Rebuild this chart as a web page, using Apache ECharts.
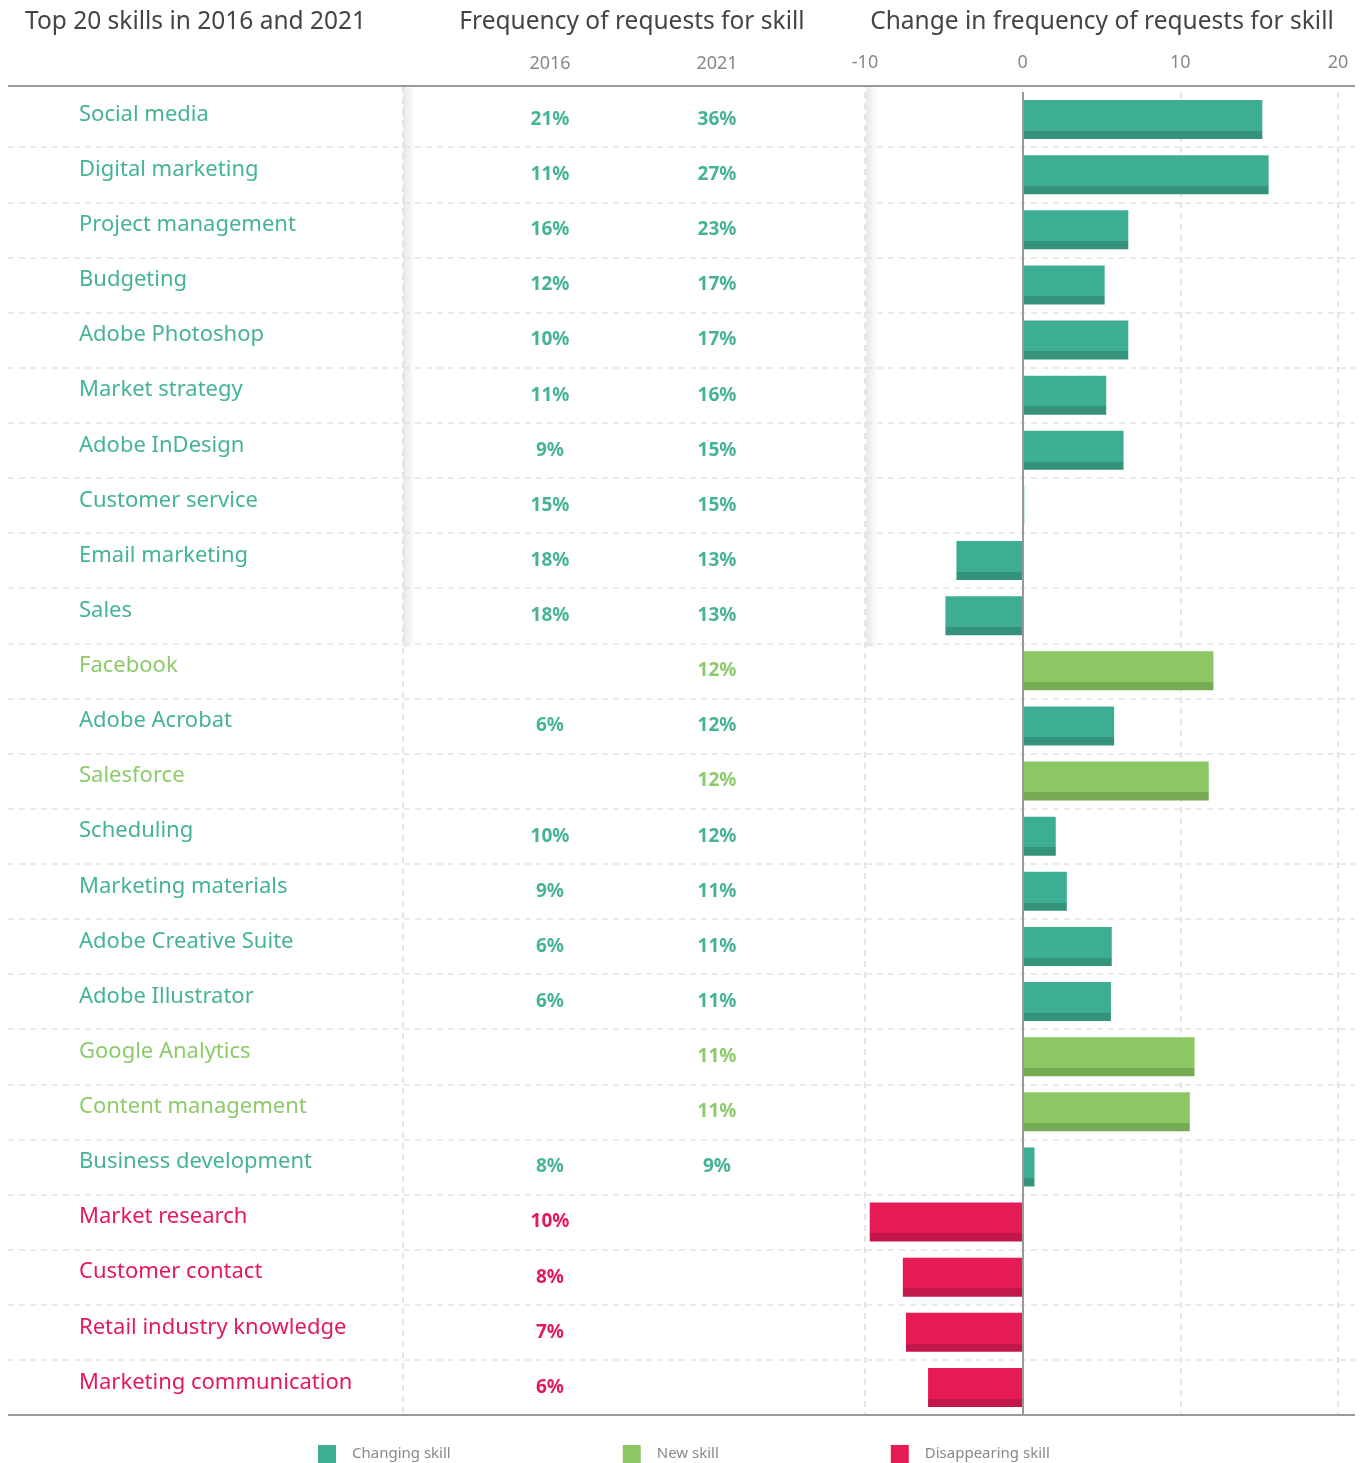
<!DOCTYPE html>
<html>
<head>
<meta charset="utf-8">
<script src="https://cdn.jsdelivr.net/npm/echarts@6/dist/echarts.min.js"></script>
<style>
  html, body { margin: 0; padding: 0; background: #fff; }
  #chart { width: 1363px; height: 1463px; }
</style>
</head>
<body>
<div id="chart"></div>
<script>
// skills, top to bottom
const skills = [
    'Social media', 'Digital marketing', 'Project management', 'Budgeting', 'Adobe Photoshop',
    'Market strategy', 'Adobe InDesign', 'Customer service', 'Email marketing', 'Sales',
    'Facebook', 'Adobe Acrobat', 'Salesforce', 'Scheduling', 'Marketing materials',
    'Adobe Creative Suite', 'Adobe Illustrator', 'Google Analytics', 'Content management',
    'Business development', 'Market research', 'Customer contact', 'Retail industry knowledge',
    'Marketing communication'
]
const skillType = [
    'changing', 'changing', 'changing', 'changing', 'changing',
    'changing', 'changing', 'changing', 'changing', 'changing',
    'new', 'changing', 'new', 'changing', 'changing',
    'changing', 'changing', 'new', 'new',
    'changing', 'gone', 'gone', 'gone', 'gone'
]
const freq2016 = [21, 11, 16, 12, 10, 11, 9, 15, 18, 18, null, 6, null, 10, 9, 6, 6, null, null, 8, 10, 8, 7, 6]
const freq2021 = [36, 27, 23, 17, 17, 16, 15, 15, 13, 13, 12, 12, 12, 12, 11, 11, 11, 11, 11, 9, null, null, null, null]
// change in frequency (percentage points)
const change = [15.2, 15.6, 6.7, 5.2, 6.7, 5.3, 6.4, 0.1, -4.2, -4.9, 12.1, 5.8, 11.8, 2.1, 2.8, 5.65, 5.6, 10.9, 10.6, 0.75, -9.7, -7.6, -7.4, -6.0]
const xTicks = [-10, 0, 10, 20]

const typeColor = { changing: '#3dae93', new: '#8bc763', gone: '#e61a55' }
const typeDark = { changing: '#35937c', new: '#76aa53', gone: '#c2174a' }
const typeText = { changing: '#45b396', new: '#8ccb6a', gone: '#e5195a' }
const typeName = { changing: 'Changing skill', new: 'New skill', gone: 'Disappearing skill' }

const font = "'Noto Sans', sans-serif"

const barColor = t => ({
    type: 'linear', x: 0, y: 0, x2: 0, y2: 1,
    colorStops: [
        { offset: 0, color: typeColor[t] },
        { offset: 0.79, color: typeColor[t] },
        { offset: 0.79, color: typeDark[t] },
        { offset: 1, color: typeDark[t] }
    ]
})

const makeSeries = t => ({
    name: typeName[t],
    type: 'bar',
    xAxisIndex: 1,
    yAxisIndex: 1,
    stack: 'all',
    barWidth: 39,
    itemStyle: { color: barColor(t) },
    data: change.map((v, i) => skillType[i] === t ? v : '-')
})

const series = ['changing', 'new', 'gone'].map(makeSeries)
series[0].markLine = {
    silent: true,
    symbol: 'none',
    label: { show: false },
    lineStyle: { color: '#999', width: 2, type: 'solid' },
    data: [{ xAxis: 0 }]
}

const pct = arr => arr.map(v => v == null ? '' : v + '%')

// one rich style per skill type, so every label keeps its type colour
const richFor = (size, weight, padding) => {
    const rich = {}
    Object.keys(typeText).forEach(t => {
        rich[t] = { color: typeText[t], fontFamily: font, fontSize: size, fontWeight: weight, padding: padding }
    })
    return rich
}

const textAxis = (data, margin, align, size, weight, padding) => ({
    gridIndex: 1,
    type: 'category',
    position: 'left',
    inverse: true,
    data: data,
    axisLine: { show: false, onZero: false },
    axisTick: { show: false },
    splitLine: { show: false },
    axisLabel: {
        align: align,
        margin: margin,
        formatter: (v, i) => v === '' ? '' : `{${skillType[i]}|${v}}`,
        rich: richFor(size, weight, padding)
    }
})

const headStyle = { fontFamily: font, fontSize: 24.5, fontWeight: 'normal', color: '#444' }
const subStyle = { fontFamily: font, fontSize: 18, fontWeight: 'normal', color: '#888' }

const myChart = echarts.init(document.querySelector('#chart'))
const option = {
    animation: false,
    title: [
        { text: 'Top 20 skills in 2016 and 2021', left: 25, top: 10, padding: 0, textStyle: headStyle },
        { text: 'Frequency of requests for skill', left: 632, top: 10, padding: 0, textAlign: 'center', textStyle: headStyle },
        { text: 'Change in frequency of requests for skill', left: 1102, top: 10, padding: 0, textAlign: 'center', textStyle: headStyle },
        { text: '2016', left: 550, top: 55, padding: 0, textAlign: 'center', textStyle: subStyle },
        { text: '2021', left: 717, top: 55, padding: 0, textAlign: 'center', textStyle: subStyle }
    ],
    legend: {
        left: 318,
        top: 1445,
        padding: 0,
        itemWidth: 18,
        itemHeight: 18,
        itemGap: 172,
        icon: 'rect',
        textStyle: { fontFamily: "'Liberation Sans Narrow', " + font, fontSize: 15, color: '#888', padding: [0, 0, 0, 11] },
        data: ['changing', 'new', 'gone'].map(t => ({ name: typeName[t], itemStyle: { color: typeColor[t] } }))
    },
    grid: [
        { left: 8, right: 8, top: 92, bottom: 48, outerBoundsMode: 'none', containLabel: false },
        { left: 865, right: 25, top: 92, bottom: 48, outerBoundsMode: 'none', containLabel: false }
    ],
    xAxis: [
        { gridIndex: 0, type: 'value', show: false, min: 0, max: 1 },
        {
            gridIndex: 1,
            type: 'value',
            position: 'top',
            min: xTicks[0],
            max: xTicks[xTicks.length - 1],
            interval: 10,
            axisLine: { show: false },
            axisTick: { show: false },
            axisLabel: { fontFamily: font, fontSize: 18, color: '#888', margin: 20 },
            splitLine: { lineStyle: { color: '#ddd', type: [6, 5], width: 1.5 } }
        }
    ],
    yAxis: [
        {
            // row separators across the whole width
            gridIndex: 0,
            type: 'category',
            inverse: true,
            data: skills,
            axisLine: { show: false },
            axisTick: { show: false },
            axisLabel: { show: false },
            splitLine: { show: true, interval: i => i > 0, lineStyle: { color: '#e4e4e4', type: [6, 5], width: 1.5 } }
        },
        textAxis(skills, 786, 'left', 22, 'normal', [0, 0, 10, 0]),
        textAxis(pct(freq2016), 315, 'center', 19, 'bold', 0),
        textAxis(pct(freq2021), 148, 'center', 19, 'bold', 0)
    ],
    graphic: [
        // column shadows
        { type: 'rect', z: 0, shape: { x: 403, y: 87, width: 12, height: 560 },
          style: { fill: { type: 'linear', x: 0, y: 0, x2: 1, y2: 0, colorStops: [{ offset: 0, color: 'rgba(0,0,0,0.09)' }, { offset: 1, color: 'rgba(0,0,0,0)' }] } } },
        { type: 'rect', z: 0, shape: { x: 866, y: 87, width: 12, height: 560 },
          style: { fill: { type: 'linear', x: 0, y: 0, x2: 1, y2: 0, colorStops: [{ offset: 0, color: 'rgba(0,0,0,0.09)' }, { offset: 1, color: 'rgba(0,0,0,0)' }] } } },
        { type: 'line', z: 1, shape: { x1: 403, y1: 87, x2: 403, y2: 1415 }, style: { stroke: '#ddd', lineWidth: 1.5, lineDash: [6, 5] } },
        { type: 'line', z: 10, shape: { x1: 8, y1: 86, x2: 1355, y2: 86 }, style: { stroke: '#999', lineWidth: 2 } },
        { type: 'line', z: 10, shape: { x1: 8, y1: 1415, x2: 1355, y2: 1415 }, style: { stroke: '#999', lineWidth: 2 } }
    ],
    series: series
}
myChart.setOption(option)
</script>
</body>
</html>
